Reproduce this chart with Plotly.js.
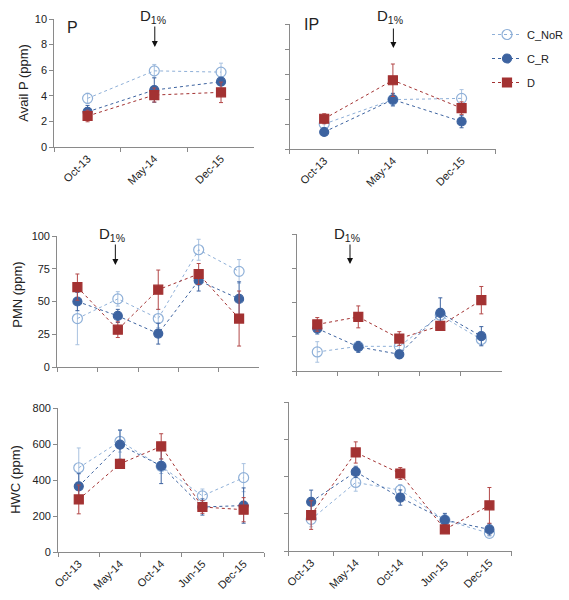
<!DOCTYPE html>
<html>
<head>
<meta charset="utf-8">
<script src="https://cdn.plot.ly/plotly-3.0.1.min.js"></script>
<style>html,body{margin:0;padding:0;background:#fff;}#chart{width:569px;height:600px;}</style>
</head>
<body>
<div id="chart"></div>
<script>
// ---- Data ----
const cats3 = ['Oct-13', 'May-14', 'Dec-15'];
const cats5 = ['Oct-13', 'May-14', 'Oct-14', 'Jun-15', 'Dec-15'];
const seriesNames = ['C_NoR', 'C_R', 'D'];

// Avail P (ppm), panel P
const availP_P_CNoR = [3.8, 5.95, 5.85];
const availP_P_CNoR_err = [0.4, 0.5, 0.7];
const availP_P_CR = [2.75, 4.45, 5.1];
const availP_P_CR_err = [0.5, 0.95, 0.3];
const availP_P_D = [2.42, 4.06, 4.27];
const availP_P_D_err = [0.45, 0.55, 0.8];

// Avail P (ppm), panel IP
const availP_IP_CNoR = [2.0, 3.95, 4.05];
const availP_IP_CNoR_err = [0.3, 0.5, 0.7];
const availP_IP_CR = [1.36, 3.95, 2.2];
const availP_IP_CR_err = [0.2, 0.5, 0.5];
const availP_IP_D = [2.42, 5.5, 3.27];
const availP_IP_D_err = [0.4, 1.3, 0.5];

// PMN (ppm), P
const pmn_P_CNoR = [37, 52, 37, 89.5, 73];
const pmn_P_CNoR_err = [20, 5.5, 7, 8, 9];
const pmn_P_CR = [50, 39, 25.5, 66, 52];
const pmn_P_CR_err = [7, 5, 8, 8, 13];
const pmn_P_D = [61, 28.5, 59, 71, 37];
const pmn_P_D_err = [10, 6, 15, 8, 21];

// PMN (ppm), IP
const pmn_IP_CNoR = [13.9, 18, 18, 40.7, 23];
const pmn_IP_CNoR_err = [7.5, 3, 4, 5, 4];
const pmn_IP_CR = [31, 17.6, 12.2, 42.4, 25.4];
const pmn_IP_CR_err = [4, 4, 3, 11, 7];
const pmn_IP_D = [34, 39.5, 23.7, 33, 51.7];
const pmn_IP_D_err = [5, 8, 5, 3, 10];

// HWC (ppm), P
const hwc_P_CNoR = [468, 615, 476, 312, 413];
const hwc_P_CNoR_err = [110, 60, 40, 38, 78];
const hwc_P_CR = [365, 596, 478, 250, 258];
const hwc_P_CR_err = [70, 82, 98, 45, 98];
const hwc_P_D = [292, 490, 587, 250, 235];
const hwc_P_D_err = [80, 25, 70, 35, 67];

// HWC (ppm), IP
const hwc_IP_CNoR = [170, 368, 327, 166, 95];
const hwc_IP_CNoR_err = [40, 47, 30, 30, 15];
const hwc_IP_CR = [264, 425, 287, 166, 116];
const hwc_IP_CR_err = [63, 30, 41, 36, 30];
const hwc_IP_D = [193, 529, 416, 116, 245];
const hwc_IP_D_err = [77, 57, 32, 10, 96];

// ---- Build ----
const W = 569, H = 600;
const px = v => v / W;
const py = v => 1 - v / H;

const styles = [
  {color: '#8fb0d8', err: '#a9c2e0', symbol: 'circle-open', size: 10, fill: '#8fb0d8'},
  {color: '#3d63a0', err: '#3d63a0', symbol: 'circle', size: 9, fill: '#3d63a0'},
  {color: '#a33232', err: '#b34848', symbol: 'square', size: 9, fill: '#a33232'}
];

const panels = [
  {xa: 'x', ya: 'y', cats: cats3, data: [[availP_P_CNoR, availP_P_CNoR_err], [availP_P_CR, availP_P_CR_err], [availP_P_D, availP_P_D_err]], legend: false},
  {xa: 'x2', ya: 'y2', cats: cats3, data: [[availP_IP_CNoR, availP_IP_CNoR_err], [availP_IP_CR, availP_IP_CR_err], [availP_IP_D, availP_IP_D_err]], legend: true},
  {xa: 'x3', ya: 'y3', cats: cats5, data: [[pmn_P_CNoR, pmn_P_CNoR_err], [pmn_P_CR, pmn_P_CR_err], [pmn_P_D, pmn_P_D_err]], legend: false},
  {xa: 'x4', ya: 'y4', cats: cats5, data: [[pmn_IP_CNoR, pmn_IP_CNoR_err], [pmn_IP_CR, pmn_IP_CR_err], [pmn_IP_D, pmn_IP_D_err]], legend: false},
  {xa: 'x5', ya: 'y5', cats: cats5, data: [[hwc_P_CNoR, hwc_P_CNoR_err], [hwc_P_CR, hwc_P_CR_err], [hwc_P_D, hwc_P_D_err]], legend: false},
  {xa: 'x6', ya: 'y6', cats: cats5, data: [[hwc_IP_CNoR, hwc_IP_CNoR_err], [hwc_IP_CR, hwc_IP_CR_err], [hwc_IP_D, hwc_IP_D_err]], legend: false}
];

const traces = [];
panels.forEach(p => {
  p.data.forEach((d, i) => {
    const s = styles[i];
    traces.push({
      type: 'scatter', mode: 'lines+markers',
      x: p.cats, y: d[0], xaxis: p.xa, yaxis: p.ya,
      name: seriesNames[i], showlegend: p.legend, legendgroup: seriesNames[i],
      line: {color: s.color, width: 1, dash: 'dot'},
      marker: {symbol: s.symbol, size: s.size, color: s.fill, line: {color: s.color, width: 1.2}},
      error_y: {type: 'data', array: d[1], visible: true, color: s.err, thickness: 1, width: 2},
      cliponaxis: false
    });
  });
});

const axisLine = '#8a8a8a';
const tickFont = {family: 'Liberation Sans, Arial, sans-serif', size: 11, color: '#222'};

function xax(d0, d1, n, anchor, labels) {
  return {domain: [px(d0), px(d1)], anchor: anchor, type: 'category', range: [-0.5, n - 0.5],
    tickson: 'boundaries', ticks: 'outside', ticklen: 4, tickcolor: axisLine, tickwidth: 1,
    showline: true, linecolor: axisLine, linewidth: 1, showgrid: false, zeroline: false,
    tickangle: -45, tickfont: tickFont, showticklabels: labels, fixedrange: true};
}
function yax(top, bottom, range, dtick, anchor, labels) {
  return {domain: [py(bottom), py(top)], anchor: anchor, range: range, dtick: dtick,
    ticks: 'outside', ticklen: 4, tickcolor: axisLine, tickwidth: 1,
    showline: true, linecolor: axisLine, linewidth: 1, showgrid: false, zeroline: false,
    tickfont: tickFont, showticklabels: labels, fixedrange: true};
}

const annFont = {family: 'Liberation Sans, Arial, sans-serif', color: '#222'};
function dlabel(cx, cy) {
  return {xref: 'paper', yref: 'paper', x: px(cx), y: py(cy), xanchor: 'center', yanchor: 'middle',
    text: 'D<sub>1%</sub>', showarrow: false, font: Object.assign({size: 15}, annFont)};
}
function darrow(x, y0, y1) {
  return {xref: 'paper', yref: 'paper', x: px(x), y: py(y1), axref: 'pixel', ayref: 'pixel', ax: 0, ay: -(y1 - y0),
    text: '', showarrow: true, arrowhead: 2, arrowsize: 1.2, arrowwidth: 1, arrowcolor: '#111'};
}
function ytitle(cx, cy, text) {
  return {xref: 'paper', yref: 'paper', x: px(cx), y: py(cy), xanchor: 'center', yanchor: 'middle',
    text: text, textangle: -90, showarrow: false, font: Object.assign({size: 13}, annFont)};
}

const layout = {
  width: W, height: H, margin: {l: 0, r: 0, t: 0, b: 0},
  paper_bgcolor: '#fff', plot_bgcolor: 'rgba(0,0,0,0)',
  font: {family: 'Liberation Sans, Arial, sans-serif', size: 11, color: '#222'},
  xaxis: xax(55, 258, 3, 'y', true),
  yaxis: yax(19, 147, [0, 10], 2, 'x', true),
  xaxis2: xax(294, 503, 3, 'y2', true),
  yaxis2: yax(24, 149, [0, 10], 2, 'x2', false),
  xaxis3: xax(58, 263, 5, 'y3', false),
  yaxis3: yax(236, 367, [0, 100], 25, 'x3', true),
  xaxis4: xax(301, 509, 5, 'y4', false),
  yaxis4: yax(234, 371, [0, 100], 25, 'x4', false),
  xaxis5: xax(59, 268, 5, 'y5', true),
  yaxis5: yax(408, 552, [0, 800], 200, 'x5', true),
  xaxis6: xax(293, 519, 5, 'y6', true),
  yaxis6: yax(402, 551, [0, 800], 200, 'x6', false),
  showlegend: true,
  legend: {x: px(494), y: py(20), xanchor: 'left', yanchor: 'top', bgcolor: 'rgba(0,0,0,0)',
    font: {family: 'Liberation Sans, Arial, sans-serif', size: 11, color: '#222'},
    itemwidth: 30, traceorder: 'grouped', tracegroupgap: 5},
  annotations: [
    {xref: 'paper', yref: 'paper', x: px(66), y: py(27), xanchor: 'left', yanchor: 'middle', text: 'P', showarrow: false, font: Object.assign({size: 16}, annFont)},
    {xref: 'paper', yref: 'paper', x: px(306), y: py(24), xanchor: 'left', yanchor: 'middle', text: 'IP', showarrow: false, font: Object.assign({size: 16}, annFont)},
    dlabel(155, 17), darrow(157, 25, 47),
    dlabel(396, 17), darrow(399, 27, 48),
    dlabel(114, 234), darrow(117, 243, 265),
    dlabel(352, 234), darrow(355, 243, 264),
    ytitle(24, 83, 'Avail P (ppm)'),
    ytitle(17, 295, 'PMN (ppm)'),
    ytitle(15, 479, 'HWC (ppm)')
  ]
};

Plotly.newPlot('chart', traces, layout, {displayModeBar: false, staticPlot: true});
</script>
</body>
</html>
